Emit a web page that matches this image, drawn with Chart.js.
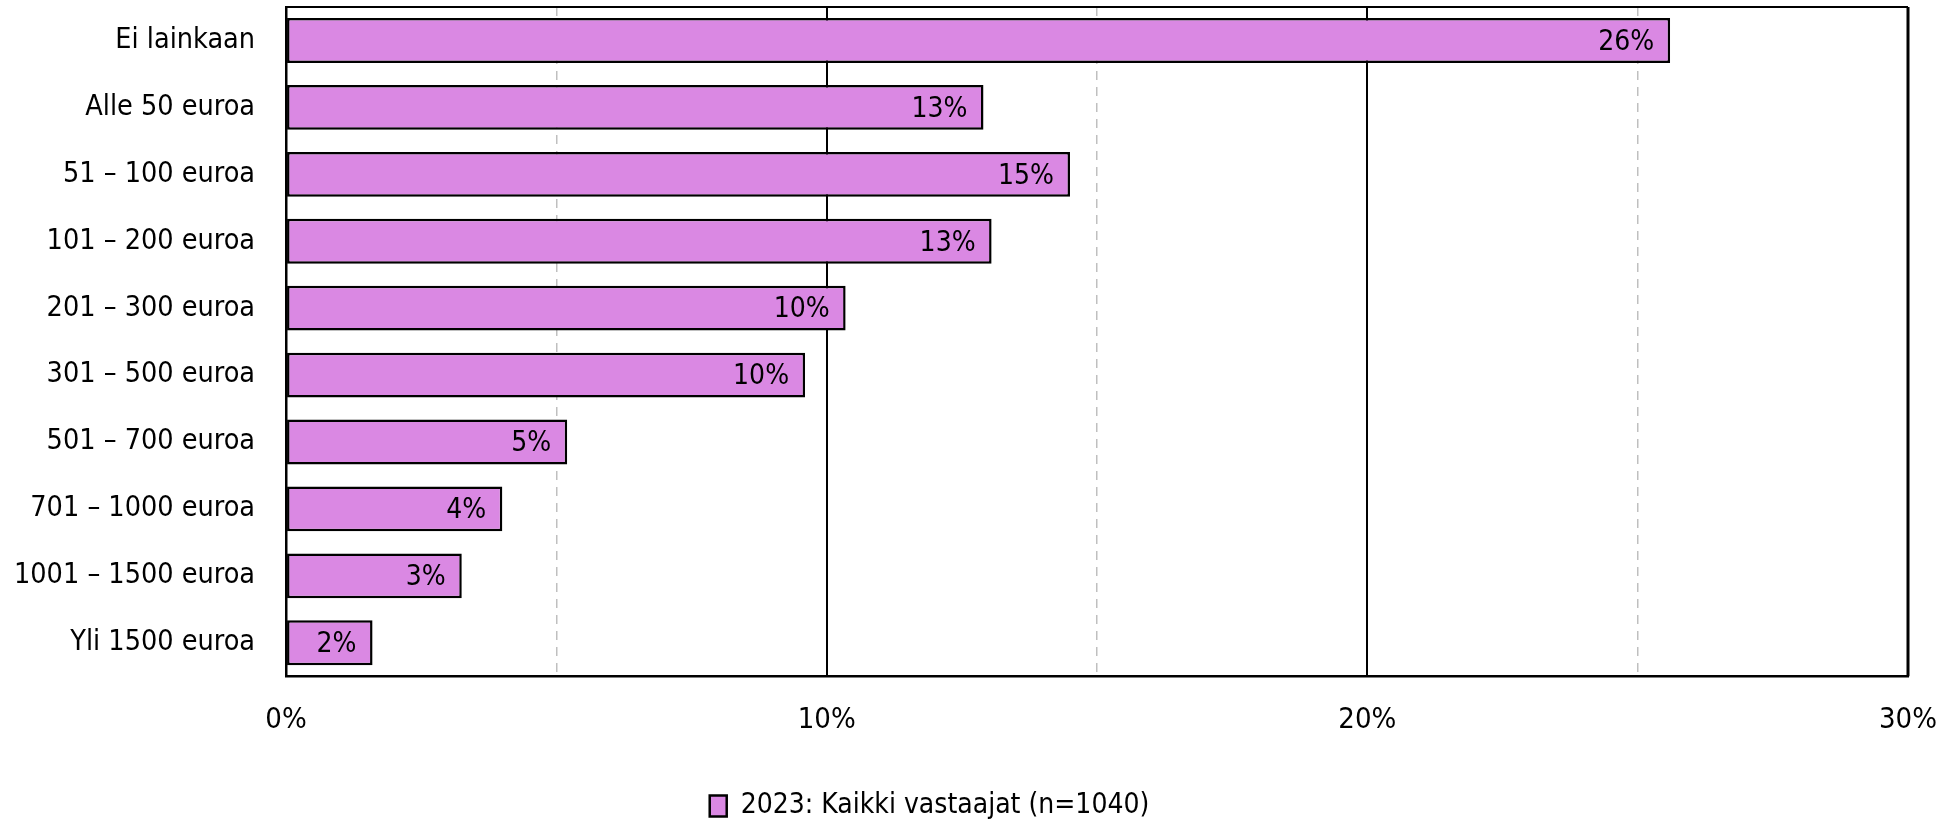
<!DOCTYPE html>
<html>
<head>
<meta charset="utf-8">
<script src="https://cdn.jsdelivr.net/npm/chart.js@4.4.1/dist/chart.umd.min.js"></script>
<style>
  html, body { margin: 0; padding: 0; background: #fff; }
  #wrap { width: 1956px; height: 820px; }
</style>
</head>
<body>
<div id="wrap"><canvas id="chart"></canvas></div>
<script>
const categories = ['Ei lainkaan', 'Alle 50 euroa', '51 – 100 euroa', '101 – 200 euroa', '201 – 300 euroa',
  '301 – 500 euroa', '501 – 700 euroa', '701 – 1000 euroa', '1001 – 1500 euroa', 'Yli 1500 euroa'];
const values = [25.6, 12.9, 14.5, 13.05, 10.35, 9.6, 5.2, 4.0, 3.25, 1.6];
const seriesLabel = '2023: Kaikki vastaajat (n=1040)';
const xMax = 30;

const FONT = '"DejaVu Sans Condensed", sans-serif';
Chart.defaults.font.family = FONT;
Chart.defaults.font.size = 29;
Chart.defaults.color = '#000';

// value labels at the inner end of each bar
const valueLabels = {
  id: 'valueLabels',
  afterDatasetsDraw(chart) {
    const ctx = chart.ctx;
    ctx.save();
    ctx.font = '28px ' + FONT;
    ctx.fillStyle = '#000';
    ctx.textAlign = 'right';
    ctx.textBaseline = 'middle';
    chart.getDatasetMeta(0).data.forEach((bar, i) => {
      ctx.fillText(Math.round(values[i]) + '%', bar.x - 16, bar.y + 2);
    });
    ctx.restore();
  }
};

// top edge of the plot frame, and legend nudged left like the original
const frameTop = {
  id: 'frameTop',
  afterLayout(chart) {
    if (chart.legend) { chart.legend.left -= 16; chart.legend.right -= 16; }
  },
  afterDraw(chart) {
    const a = chart.chartArea, ctx = chart.ctx;
    ctx.save();
    ctx.strokeStyle = '#000';
    ctx.lineWidth = 2;
    ctx.beginPath();
    ctx.moveTo(a.left, a.top);
    ctx.lineTo(a.right, a.top);
    ctx.stroke();
    ctx.lineWidth = 3;
    ctx.beginPath();
    ctx.moveTo(a.right, a.top);
    ctx.lineTo(a.right, a.bottom);
    ctx.stroke();
    ctx.restore();
  }
};

new Chart(document.getElementById('chart'), {
  type: 'bar',
  data: {
    labels: categories,
    datasets: [{
      label: seriesLabel,
      data: values,
      backgroundColor: '#DA88E3',
      borderColor: '#000',
      borderWidth: 2.5,
      borderSkipped: false,
      barPercentage: 0.67,
      categoryPercentage: 1
    }]
  },
  options: {
    indexAxis: 'y',
    responsive: true,
    maintainAspectRatio: false,
    animation: false,
    layout: { padding: { top: 7, left: -17, right: 48, bottom: -10 } },
    scales: {
      x: {
        min: 0,
        max: xMax,
        ticks: {
          stepSize: 5,
          padding: 27,
          callback: v => (v % 10 === 0 ? v + '%' : '')
        },
        grid: {
          drawTicks: false,
          color: ctx => (ctx.tick && ctx.tick.value % 10 !== 0 ? '#BFBFBF' : '#000'),
          lineWidth: ctx => (ctx.tick && ctx.tick.value % 10 !== 0 ? 1.5 : 2)
        },
        border: {
          display: true,
          color: '#000',
          width: 2.5,
          dash: ctx => (ctx.tick && ctx.tick.value % 10 !== 0 ? [9, 7] : [])
        },
        afterFit: scale => { scale.height += 23; scale.paddingRight = 0; scale.paddingLeft = 0; }
      },
      y: {
        ticks: { padding: 31, font: { size: 28.5 } },
        grid: { display: false, drawTicks: false },
        border: { display: true, color: '#000', width: 2.5 },
        afterFit: scale => { scale.paddingTop = 0; scale.paddingBottom = 0; }
      }
    },
    plugins: {
      tooltip: { enabled: false },
      legend: {
        position: 'bottom',
        labels: { boxWidth: 17, boxHeight: 21, padding: 4, font: { size: 28 } }
      }
    }
  },
  plugins: [valueLabels, frameTop]
});
</script>
</body>
</html>
